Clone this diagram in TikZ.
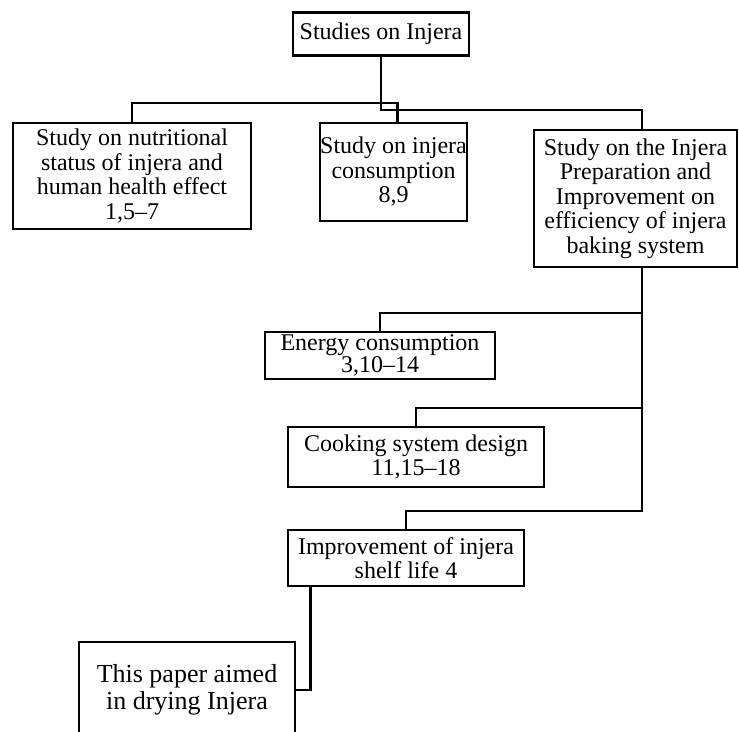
\documentclass[tikz,border=0pt]{standalone}
\usepackage{fontspec}
\setmainfont{Liberation Serif}
\begin{document}
\begin{tikzpicture}[x=1pt,y=-1pt,font=\fontsize{24}{24.5}\selectfont]
\tikzset{box/.style={draw,line width=2.8pt,align=center,inner sep=0pt},
  link/.style={draw,line width=2.8pt}}
\clip (0,0) rectangle (739,731);
\node[box,minimum width=176,minimum height=43] (0) at (381,34) {Studies on Injera};
\node[box,minimum width=238,minimum height=106] (1) at (132,176) {Study on nutritional\\status of injera and\\human health effect\\1,5--7};
\node[box,minimum width=147,minimum height=98] (2) at (393.5,172) {Study on injera\\consumption\\8,9};
\node[box,minimum width=203,minimum height=137] (3) at (635.5,198.5) {Study on the Injera\\Preparation and\\Improvement on\\efficiency of injera\\baking system};
\node[box,minimum width=230,minimum height=47] (4) at (380,355.5) {Energy consumption\\[-2pt]3,10--14};
\node[box,minimum width=256,minimum height=60] (5) at (416,457) {Cooking system design\\11,15--18};
\node[box,minimum width=236,minimum height=56] (6) at (406,558) {Improvement of injera\\shelf life 4};
\node[box,minimum width=216,minimum height=96,font=\fontsize{26}{27}\selectfont] (7) at (187,690) {This paper aimed\\in drying Injera};

\coordinate (c1) at (381,103);
\coordinate (c2) at (381,110);
\coordinate (t) at (642,0);
\coordinate (b1) at (642,313);
\coordinate (b2) at (642,408);
\coordinate (b3) at (642,511);
\path[link] (0.south) -- (c2) -| (t |- 3.north);
\path[link] (c1) -| (1.north);
\path[link] (c1) -| ([xshift=4pt]2.north);
\path[link] (t |- 3.south) -- (b3) -| (6.north);
\path[link] (b1) -| (4.north);
\path[link] (b2) -| (5.north);
\path[link] ([xshift=24pt]6.south west) |- (7.east);
\end{tikzpicture}
\end{document}
